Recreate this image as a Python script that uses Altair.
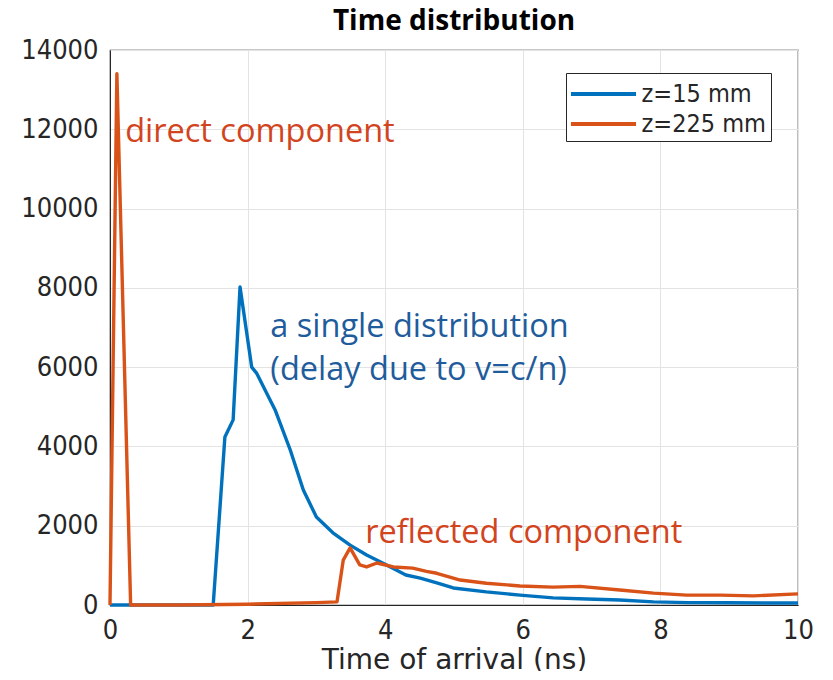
import altair as alt
import pandas as pd

# z=15 mm series (blue)
t_blue = [0, 0.5, 1.0, 1.5, 1.67, 1.79, 1.89, 2.06, 2.13, 2.4, 2.62, 2.81, 3.0, 3.24,
          3.49, 3.73, 4.02, 4.3, 4.51, 4.75, 4.99, 5.47, 5.96, 6.44, 6.93, 7.41, 7.9,
          8.4, 9.0, 9.5, 10]
v_blue = [0, 0, 0, 0, 4240, 4670, 8020, 6000, 5850, 4920, 3910, 2900, 2220, 1820,
          1510, 1260, 1010, 757, 680, 560, 430, 330, 250, 180, 150, 125, 80,
          60, 55, 50, 50]

# z=225 mm series (orange)
t_orange = [0, 0.1, 0.3, 1.0, 2.0, 3.0, 3.3, 3.39, 3.49, 3.63, 3.73, 3.88, 4.12, 4.4,
            4.6, 4.75, 5.09, 5.47, 5.96, 6.44, 6.83, 7.41, 7.9, 8.38, 8.87, 9.35, 10]
v_orange = [0, 13400, 0, 0, 20, 60, 80, 1130, 1440, 1010, 960, 1060, 960, 930,
            850, 800, 630, 550, 480, 450, 470, 380, 300, 250, 250, 230, 280]

series_names = ["z=15 mm", "z=225 mm"]
series_colors = ["#0072BD", "#D95319"]

# annotations
ann_text = ["direct component", "a single distribution", "(delay due to v=c/n)", "reflected component"]
ann_t = [0.22, 2.33, 2.33, 3.71]
ann_v = [11930, 7010, 5930, 1816]
ann_color = ["#D2441E", "#1F5C9C", "#1F5C9C", "#D2441E"]

rows = []
for t, v in zip(t_blue, v_blue):
    rows.append({"t": t, "v": v, "s": series_names[0], "o": 0})
for t, v in zip(t_orange, v_orange):
    rows.append({"t": t, "v": v, "s": series_names[1], "o": 1})
df = pd.DataFrame(rows)

ann = pd.DataFrame({"text": ann_text, "t": ann_t, "v": ann_v, "c": ann_color})

label_font = "DejaVu Sans Condensed, DejaVu Sans"
title_font = "DejaVu Sans"
x = alt.X("t:Q", scale=alt.Scale(domain=[0, 10], nice=False),
          axis=alt.Axis(title="Time of arrival (ns)", values=[0, 2, 4, 6, 8, 10], format="d",
                        labelFont=label_font, labelFontSize=27, labelColor="#262626",
                        titleFont=title_font, titleFontSize=28, titleColor="#262626",
                        titleFontWeight="normal", labelPadding=12, titlePadding=3,
                        ticks=False, domainColor="#262626", gridColor="#e3e3e3",
                        labelFlush=False))
y = alt.Y("v:Q", scale=alt.Scale(domain=[0, 14000], nice=False),
          axis=alt.Axis(title=None, values=list(range(0, 14001, 2000)), format="d",
                        labelFont=label_font, labelFontSize=27, labelColor="#262626",
                        labelPadding=12, ticks=False, domainColor="#262626",
                        gridColor="#e3e3e3", labelFlush=False))

lines = alt.Chart(df).mark_line(strokeWidth=3.4, strokeJoin="round").encode(
    x=x, y=y,
    color=alt.Color("s:N", scale=alt.Scale(domain=series_names, range=series_colors),
                    legend=alt.Legend(title=None, orient="none", legendX=456, legendY=23,
                                      symbolType="M-2.17,0H2.17", symbolSize=900,
                                      symbolStrokeWidth=4, symbolOffset=16.5,
                                      labelFont=label_font, labelFontSize=25, labelColor="#262626",
                                      strokeColor="#262626", fillColor="white", padding=4,
                                      rowPadding=0, labelOffset=21)),
    order="o:Q",
)

texts = alt.Chart(ann).mark_text(align="left", baseline="middle", font="Open Sans",
                                  fontSize=32.5).encode(
    x="t:Q", y="v:Q", text="text:N", color=alt.Color("c:N", scale=None)
)

chart = alt.layer(lines, texts).properties(
    width=688, height=555,
    autosize=alt.AutoSizeParams(type="none"),
    padding={"left": 102, "top": 42, "right": 25, "bottom": 66},
    title=alt.TitleParams("Time distribution", font="Open Sans", fontSize=28,
                          fontWeight="bold", color="black", anchor="middle", offset=0),
).configure_view(stroke="#262626", strokeWidth=1.2)

chart.save("out.html", embed_options={"renderer": "svg", "actions": False})
